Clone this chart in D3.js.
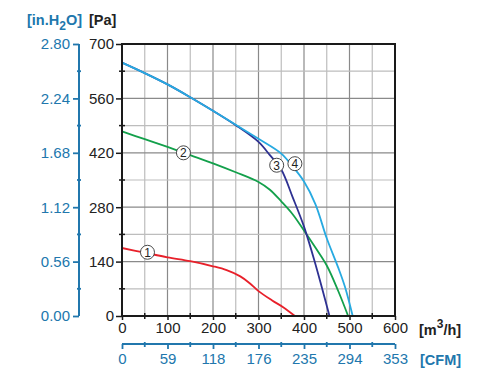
<!DOCTYPE html>
<html><head><meta charset="utf-8">
<script src="https://cdn.jsdelivr.net/npm/d3@7"></script>
<style>body{margin:0;background:#fff}svg{display:block}text{font-family:"Liberation Sans",Arial,sans-serif}</style>
</head><body><svg id="c" width="484" height="380"></svg>
<script>
const flowTicks = [0,100,200,300,400,500,600];
const cfmLabels = ["0","59","118","176","235","294","353"];
const paTicks = [0,140,280,420,560,700];
const inLabels = ["0.00","0.56","1.12","1.68","2.24","2.80"];
const curve1 = [[0,175],[50,163],[100,151],[150,141],[200,128],[230,118],[260,102],[280,85],[300,64],[330,40],[355,22],[380,0]];
const curve2 = [[0,475],[50,455],[100,435],[150,414],[200,393],[250,370],[300,345],[325,325],[350,295],[375,262],[400,220],[425,176],[450,130],[475,65],[497,0]];
const curve3 = [[0,652],[50,625],[100,596],[150,563],[200,528],[250,491],[300,448],[325,414],[350,377],[375,306],[400,230],[425,134],[440,70],[456,0]];
const curve4 = [[0,652],[50,625],[100,596],[150,563],[200,528],[250,492],[300,456],[350,418],[375,385],[400,346],[425,288],[450,200],[475,125],[490,75],[507,0]];
const curveColors = ["#e8202a","#13a04b","#2e3192","#27aae1"];
const curveLabels = [{n:"1",x:56,y:164},{n:"2",x:135,y:420},{n:"3",x:340,y:388},{n:"4",x:380,y:392}];

const blue = "#2177ad";
const svg = d3.select("#c");
const x = d3.scaleLinear().domain([0,600]).range([122,395]);
const y = d3.scaleLinear().domain([0,700]).range([316,44]);

// grid
const g = svg.append("g");
d3.range(50,600,50).forEach(v=>{
  g.append("line").attr("x1",x(v)).attr("x2",x(v)).attr("y1",y(0)).attr("y2",y(700))
   .attr("stroke", v%100===0?"#8a8a8a":"#bdbdbd").attr("stroke-width",1.2);
});
d3.range(70,700,70).forEach(v=>{
  g.append("line").attr("x1",x(0)).attr("x2",x(600)).attr("y1",y(v)).attr("y2",y(v))
   .attr("stroke", v%140===0?"#8a8a8a":"#bdbdbd").attr("stroke-width",1.2);
});

// curves
const line = d3.line().x(d=>x(d[0])).y(d=>y(d[1])).curve(d3.curveCatmullRom.alpha(0.5));
[curve1,curve2,curve3,curve4].forEach((c,i)=>{
  svg.append("path").attr("d",line(c)).attr("fill","none").attr("stroke",curveColors[i]).attr("stroke-width",1.8);
});
curveLabels.forEach(l=>{
  svg.append("circle").attr("cx",x(l.x)).attr("cy",y(l.y)).attr("r",7).attr("fill","#fff").attr("stroke","#333").attr("stroke-width",0.9);
  svg.append("text").attr("x",x(l.x)).attr("y",y(l.y)+4.4).attr("text-anchor","middle").attr("font-size",12).attr("fill","#222").text(l.n);
});

// frame
svg.append("rect").attr("x",x(0)).attr("y",y(700)).attr("width",x(600)-x(0)).attr("height",y(0)-y(700))
  .attr("fill","none").attr("stroke","#1a1a1a").attr("stroke-width",2);

// left Pa axis
const yAx = svg.append("g").attr("transform",`translate(${x(0)},0)`)
  .call(d3.axisLeft(y).tickValues(paTicks).tickSize(6).tickPadding(2).tickFormat(d3.format("d")));
yAx.select(".domain").remove();
yAx.selectAll("line").attr("stroke","#1a1a1a").attr("stroke-width",1.5);
yAx.selectAll("text").attr("font-size",15).attr("fill","#222").attr("font-family","Liberation Sans, Arial, sans-serif");
d3.range(70,700,140).forEach(v=>{
  svg.append("line").attr("x1",x(0)-3).attr("x2",x(0)+3).attr("y1",y(v)).attr("y2",y(v)).attr("stroke","#1a1a1a").attr("stroke-width",1.5);
});

// bottom flow axis
const xAx = svg.append("g").attr("transform",`translate(0,${y(0)})`)
  .call(d3.axisBottom(x).tickValues(flowTicks).tickSize(4).tickPadding(2).tickFormat(d3.format("d")));
xAx.select(".domain").remove();
xAx.selectAll("line").attr("stroke","#1a1a1a").attr("stroke-width",1.5);
xAx.selectAll("text").attr("font-size",15).attr("fill","#222").attr("font-family","Liberation Sans, Arial, sans-serif");
d3.range(50,600,100).forEach(v=>{
  svg.append("line").attr("x1",x(v)).attr("x2",x(v)).attr("y1",y(0)-3).attr("y2",y(0)+3).attr("stroke","#1a1a1a").attr("stroke-width",1.5);
});

// left inH2O axis
const yIn = d3.scaleLinear().domain([0,5]).range([y(0),y(700)]);
const inAx = svg.append("g").attr("transform","translate(79,0)")
  .call(d3.axisLeft(yIn).tickValues(d3.range(0,6)).tickSize(6).tickPadding(3).tickFormat(i=>inLabels[i]));
inAx.select(".domain").attr("stroke",blue).attr("stroke-width",2).attr("d",`M0,${y(0)}V${y(700)}`);
inAx.selectAll("line").attr("stroke",blue).attr("stroke-width",1.8);
inAx.selectAll("text").attr("font-size",15).attr("fill",blue).attr("font-family","Liberation Sans, Arial, sans-serif");
d3.range(0.5,5,1).forEach(v=>{
  svg.append("line").attr("x1",77).attr("x2",81).attr("y1",yIn(v)).attr("y2",yIn(v)).attr("stroke",blue).attr("stroke-width",1.8);
});

// bottom CFM axis
const xC = d3.scaleLinear().domain([0,6]).range([x(0),x(600)]);
const cAx = svg.append("g").attr("transform","translate(0,344)")
  .call(d3.axisBottom(xC).tickValues(d3.range(0,7)).tickSize(5).tickPadding(4).tickFormat(i=>cfmLabels[i]));
cAx.select(".domain").attr("stroke",blue).attr("stroke-width",2).attr("d",`M${x(0)},0H${x(600)}`);
cAx.selectAll("line").attr("stroke",blue).attr("stroke-width",1.8);
cAx.selectAll("text").attr("font-size",15).attr("fill",blue).attr("font-family","Liberation Sans, Arial, sans-serif");
d3.range(0.5,6,1).forEach(v=>{
  svg.append("line").attr("x1",xC(v)).attr("x2",xC(v)).attr("y1",342).attr("y2",347).attr("stroke",blue).attr("stroke-width",1.8);
});

// unit labels
const t1 = svg.append("text").attr("x",27).attr("y",25).attr("font-size",14.5).attr("font-weight","bold").attr("fill",blue);
t1.append("tspan").text("[in.H");
t1.append("tspan").attr("dy",5).attr("font-size",12).text("2");
t1.append("tspan").attr("dy",-5).text("O]");
svg.append("text").attr("x",89).attr("y",25).attr("font-size",14.5).attr("font-weight","bold").attr("fill","#222").text("[Pa]");
const t2 = svg.append("text").attr("x",419).attr("y",335).attr("font-size",14.5).attr("font-weight","bold").attr("fill","#222");
t2.append("tspan").text("[m");
t2.append("tspan").attr("dy",-7).attr("font-size",12).text("3");
t2.append("tspan").attr("dy",7).text("/h]");
svg.append("text").attr("x",420).attr("y",365).attr("font-size",14.5).attr("font-weight","bold").attr("fill",blue).text("[CFM]");
</script></body></html>
